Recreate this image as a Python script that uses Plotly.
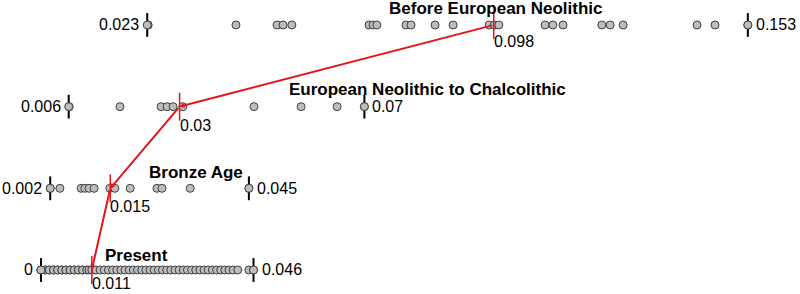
import plotly.graph_objects as go

# ---------------- data ----------------
periods = ["Before European Neolithic", "European Neolithic to Chalcolithic", "Bronze Age", "Present"]

before_vals = [0.0232, 0.0422, 0.0511, 0.0524, 0.0543, 0.0710, 0.0719, 0.0727, 0.0790, 0.0801,
               0.0853, 0.0892, 0.0970, 0.0981, 0.0991, 0.1091, 0.1108, 0.1130, 0.1214, 0.1232,
               0.1260, 0.1420, 0.1459, 0.1530]
chalco_vals = [0.0061, 0.0171, 0.0260, 0.0273, 0.0286, 0.0307, 0.0461, 0.0563, 0.0641, 0.0700]
bronze_vals = [0.0020, 0.0041, 0.0087, 0.0095, 0.0104, 0.0115, 0.0149, 0.0160, 0.0193, 0.0251,
               0.0262, 0.0323, 0.0450]
present_vals = [0.0, 0.0, 0.0, 0.0009, 0.0009, 0.0018, 0.0018, 0.0027, 0.0027, 0.0036, 0.0036,
                0.0045, 0.0045, 0.0054, 0.0054, 0.0063, 0.0063, 0.0072, 0.0072, 0.0081, 0.0081,
                0.0090, 0.0090, 0.0099, 0.0104, 0.0110, 0.0119, 0.0128, 0.0137, 0.0146, 0.0155,
                0.0164, 0.0173, 0.0182, 0.0191, 0.0200, 0.0209, 0.0218, 0.0227, 0.0236, 0.0245,
                0.0254, 0.0263, 0.0272, 0.0281, 0.0290, 0.0299, 0.0308, 0.0317, 0.0326, 0.0335,
                0.0344, 0.0353, 0.0362, 0.0371, 0.0380, 0.0389, 0.0398, 0.0407, 0.0416, 0.0426,
                0.0450, 0.0460]

mins = [0.023, 0.006, 0.002, 0.0]
maxs = [0.153, 0.07, 0.045, 0.046]
medians = [0.098, 0.03, 0.015, 0.011]
min_labels = ["0.023", "0.006", "0.002", "0"]
max_labels = ["0.153", "0.07", "0.045", "0.046"]
median_labels = ["0.098", "0.03", "0.015", "0.011"]

all_vals = [before_vals, chalco_vals, bronze_vals, present_vals]

# ---------------- layout helpers ----------------
row_y = [4, 3, 2, 1]
title_x = [0.0750, 0.0532, 0.0229, 0.0134]
title_shift = [16, 17, 16, 14]
median_label_shift = [-17, -19, -18, -14]

RED = "#e3151b"
FONT = "Liberation Sans, Arial, sans-serif"

fig = go.Figure()

for vals, y in zip(all_vals, row_y):
    fig.add_trace(go.Scatter(
        x=vals, y=[y] * len(vals), mode="markers",
        marker=dict(symbol="circle", size=8, color="#bdbdbd",
                    line=dict(color="#404040", width=1)),
        hoverinfo="skip", showlegend=False))

# min / max tick marks
ext_x = mins + maxs
ext_y = row_y + row_y
fig.add_trace(go.Scatter(
    x=ext_x, y=ext_y, mode="markers",
    marker=dict(symbol="line-ns", size=17, color="black",
                line=dict(color="black", width=2)),
    hoverinfo="skip", showlegend=False))
fig.add_trace(go.Scatter(
    x=ext_x, y=ext_y, mode="markers",
    marker=dict(symbol="circle", size=8, color="#bdbdbd",
                line=dict(color="#404040", width=1)),
    hoverinfo="skip", showlegend=False))

# median ticks
fig.add_trace(go.Scatter(
    x=medians, y=row_y, mode="markers",
    marker=dict(symbol="line-ns", size=20, color=RED,
                line=dict(color=RED, width=1.5)),
    hoverinfo="skip", showlegend=False))

annotations = []
for i in range(4):
    y = row_y[i]
    annotations.append(dict(x=mins[i], y=y, text=min_labels[i], showarrow=False,
                            xanchor="right", yanchor="middle", xshift=-6,
                            font=dict(size=16, color="black", family=FONT)))
    annotations.append(dict(x=maxs[i], y=y, text=max_labels[i], showarrow=False,
                            xanchor="left", yanchor="middle", xshift=6,
                            font=dict(size=16, color="black", family=FONT)))
    annotations.append(dict(x=medians[i], y=y, text=median_labels[i], showarrow=False,
                            xanchor="left", yanchor="middle", xshift=-2,
                            yshift=median_label_shift[i],
                            font=dict(size=16, color="black", family=FONT)))
    annotations.append(dict(x=title_x[i], y=y, text="<b>" + periods[i] + "</b>", showarrow=False,
                            xanchor="left", yanchor="middle", yshift=title_shift[i],
                            font=dict(size=17, color="black", family=FONT)))

for i in range(3):
    annotations.append(dict(x=medians[i + 1], y=row_y[i + 1], ax=medians[i], ay=row_y[i],
                            xref="x", yref="y", axref="x", ayref="y",
                            text="", showarrow=True, arrowhead=2, arrowsize=0.5,
                            arrowwidth=2, arrowcolor=RED, standoff=0, startstandoff=0))

fig.update_layout(
    width=800, height=294,
    margin=dict(l=0, r=0, t=0, b=0),
    paper_bgcolor="white", plot_bgcolor="white",
    xaxis=dict(range=[-0.00887, 0.16429], visible=False, fixedrange=True),
    yaxis=dict(range=[0.706, 4.306], visible=False, fixedrange=True),
    annotations=annotations,
    font=dict(family=FONT),
)

fig.write_html("out.html", config={"displayModeBar": False},
               post_script="document.body.style.margin='0';document.body.style.overflow='hidden';")
